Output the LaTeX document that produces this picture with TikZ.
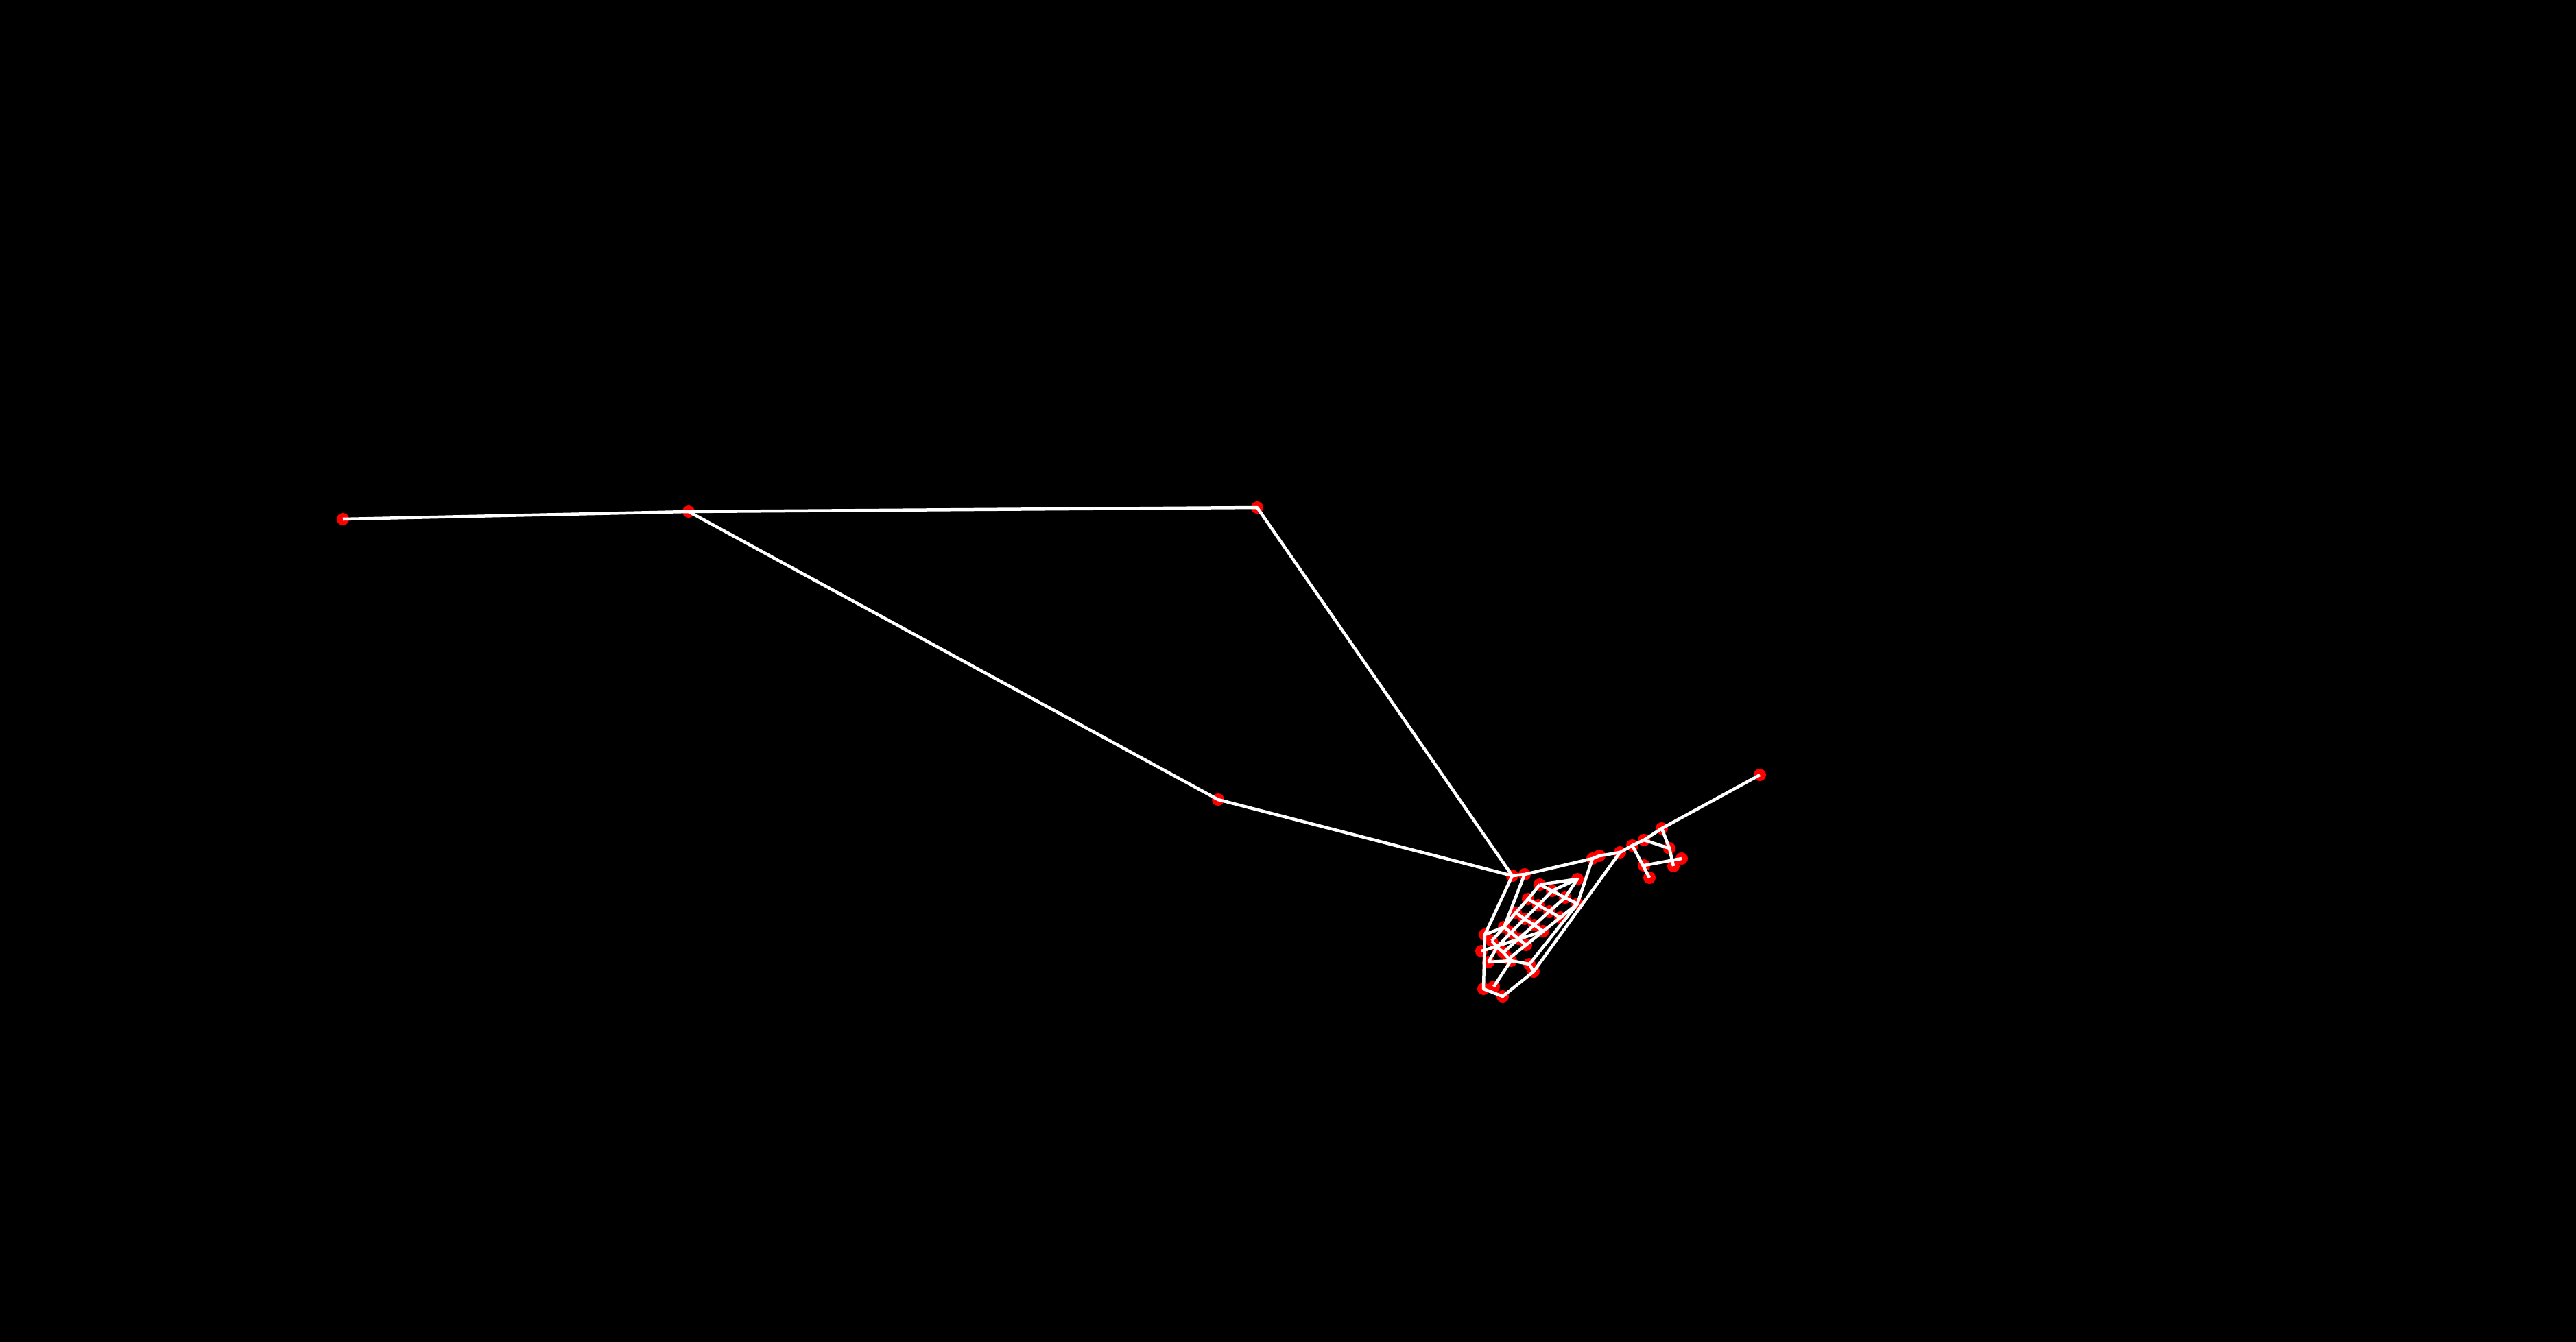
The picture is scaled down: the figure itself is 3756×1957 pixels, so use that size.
\documentclass[tikz,border=0pt]{standalone}
\usepackage{tikz}
\usetikzlibrary{positioning}

\begin{document}
\begin{tikzpicture}[x=0.01cm, y=-0.01cm,
    pt/.style={circle, fill=red, inner sep=0pt, minimum size=0.18cm},
    link/.style={draw=white, line width=0.045cm, line join=round}]
    \fill[black] (0,0) rectangle (3756,1957);
    \useasboundingbox (0,0) rectangle (3756,1957);

    % long arms
    \node[pt] (A) at (500,757) {};
    \node[pt] (B) at (1004,746) {};
    \node[pt] (C) at (1833,740) {};
    \node[pt] (D) at (1776,1166) {};
    \node[pt] (E) at (2566,1130) {};

    % hub and left rim
    \node[pt] (H1) at (2205,1277) {};
    \node[pt] (H2) at (2223,1275) {};
    \node[pt] (Q) at (2300,1282) {};
    \node[pt] (L1) at (2165,1363) {};
    \node[pt] (L2) at (2160,1387) {};
    \node[pt] (L3) at (2170,1403) {};
    \node[pt] (L4) at (2163,1442) {};
    \node[pt] (L5) at (2178,1439) {};
    \node[pt] (L6) at (2191,1453) {};
    \node[pt] (L7) at (2203,1401) {};
    \node[pt] (L8) at (2230,1406) {};
    \node[pt] (L9) at (2236,1417) {};

    % web
    \node[pt] (g00) at (2175,1372) {};
    \node[pt] (g10) at (2193,1352) {};
    \node[pt] (g20) at (2210,1331) {};
    \node[pt] (g30) at (2228,1311) {};
    \node[pt] (g40) at (2245,1290) {};
    \node[pt] (g01) at (2183,1381) {};
    \node[pt] (g11) at (2203,1360) {};
    \node[pt] (g21) at (2223,1340) {};
    \node[pt] (g31) at (2243,1320) {};
    \node[pt] (g41) at (2263,1299) {};
    \node[pt] (g02) at (2192,1389) {};
    \node[pt] (g12) at (2214,1369) {};
    \node[pt] (g22) at (2237,1349) {};
    \node[pt] (g32) at (2259,1329) {};
    \node[pt] (g42) at (2282,1309) {};
    \node[pt] (g03) at (2200,1398) {};
    \node[pt] (g13) at (2225,1378) {};
    \node[pt] (g23) at (2250,1358) {};
    \node[pt] (g33) at (2275,1338) {};
    \node[pt] (g43) at (2300,1318) {};

    % right branch
    \node[pt] (M1) at (2322,1252) {};
    \node[pt] (M2) at (2332,1248) {};
    \node[pt] (M3) at (2362,1243) {};
    \node[pt] (M4) at (2380,1233) {};
    \node[pt] (M5) at (2397,1225) {};
    \node[pt] (M6) at (2423,1208) {};
    \node[pt] (M7) at (2434,1237) {};
    \node[pt] (M8) at (2440,1263) {};
    \node[pt] (M9) at (2405,1280) {};
    \node[pt] (M10) at (2452,1252) {};
    \node[pt] (M11) at (2397,1262) {};

    \draw[link] (A.center) -- (B.center) -- (C.center) -- (H1.center)
    (B.center) -- (D.center) -- (H1.center) -- (H2.center) -- (M1.center) -- (M2.center)
    -- (M3.center) -- (M4.center) -- (M5.center) -- (M6.center) -- (E.center);

    \draw[link] (H1.center) -- (L1.center) -- (L4.center) -- (L6.center) -- (L9.center) -- (M3.center)
    (H2.center) -- (g10.center) -- (L1.center)
    (L2.center) -- (g23.center)
    (L3.center) -- (g01.center)
    (L3.center) -- (L7.center) -- (L8.center) -- (g43.center) -- (M1.center)
    (L5.center) -- (L7.center)
    (L8.center) -- (L9.center)
    (g40.center) -- (Q.center) -- (g41.center)
    (Q.center) -- (g42.center);

    \draw[link] (g00.center) -- (g10.center) -- (g20.center) -- (g30.center) -- (g40.center)
    (g01.center) -- (g11.center) -- (g21.center) -- (g31.center) -- (g41.center)
    (g02.center) -- (g12.center) -- (g22.center) -- (g32.center) -- (g42.center)
    (g03.center) -- (g13.center) -- (g23.center) -- (g33.center) -- (g43.center)
    (g00.center) -- (g01.center) -- (g02.center) -- (g03.center)
    (g10.center) -- (g11.center) -- (g12.center) -- (g13.center)
    (g20.center) -- (g21.center) -- (g22.center) -- (g23.center)
    (g30.center) -- (g31.center) -- (g32.center) -- (g33.center)
    (g40.center) -- (g41.center) -- (g42.center) -- (g43.center);

    \draw[link] (M4.center) -- (M9.center)
    (M5.center) -- (M7.center)
    (M6.center) -- (M7.center) -- (M8.center)
    (M11.center) -- (M10.center);
  \end{tikzpicture}
\end{document}
